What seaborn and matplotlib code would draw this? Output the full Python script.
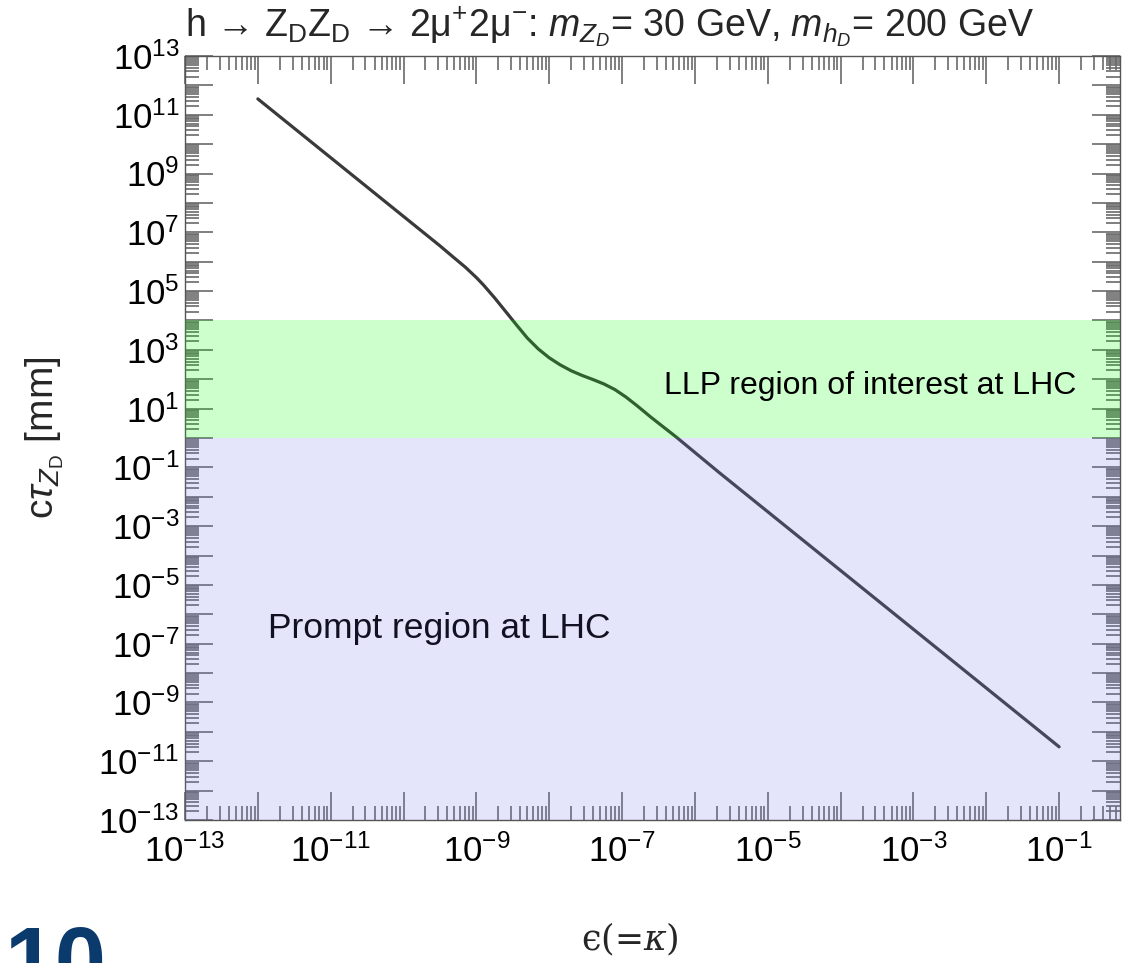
import numpy as np
import pandas as pd
import matplotlib
matplotlib.use("Agg")
import matplotlib.pyplot as plt
import seaborn as sns
from matplotlib.ticker import FixedLocator, FuncFormatter

# Lifetime of the dark Z boson versus kinetic mixing
log_eps = [-12.00, -11.50, -11.00, -10.50, -10.00, -9.50, -9.30, -9.15,
           -9.00, -8.90, -8.75, -8.60, -8.45, -8.30, -8.15, -8.00, -7.85,
           -7.70, -7.55, -7.40, -7.25, -7.10, -6.95, -6.80, -6.60, -6.26,
           -5.67, -4.00, -2.00, -1.00]
log_ctau = [11.54, 10.54, 9.54, 8.54, 7.54, 6.54, 6.12, 5.81,
            5.46, 5.20, 4.77, 4.31, 3.85, 3.40, 3.03, 2.73, 2.49,
            2.29, 2.13, 1.99, 1.84, 1.65, 1.40, 1.11, 0.70, 0.04,
            -1.17, -4.51, -8.51, -10.51]

# Lifetime regions [mm]
prompt_range = (1e-13, 1.0)
llp_range = (1.0, 1e4)

x_decades = list(range(-13, 1))
y_decades = list(range(-13, 14))

df = pd.DataFrame({"eps": np.power(10.0, log_eps),
                   "ctau": np.power(10.0, log_ctau)})

sns.set_theme(style="ticks")
plt.rcParams["font.family"] = ["Liberation Sans", "DejaVu Sans"]
plt.rcParams["mathtext.fontset"] = "custom"
plt.rcParams["mathtext.rm"] = "Liberation Sans"
plt.rcParams["mathtext.it"] = "Liberation Sans:italic"
plt.rcParams["mathtext.bf"] = "Liberation Sans:bold"

fig = plt.figure(figsize=(11.22, 9.63), dpi=100)
ax = fig.add_axes([185 / 1122, 1 - 820 / 963, 935 / 1122, 764 / 963])

sns.lineplot(data=df, x="eps", y="ctau", ax=ax, color="#3a3a3a",
             linewidth=2.3, zorder=2, sort=False)

ax.set_xscale("log")
ax.set_yscale("log")
ax.set_xlim(1e-13, 10 ** (-1 + 61 / 73))
ax.set_ylim(1e-13, 1e13)

ax.axhspan(*prompt_range, color="#7878E6", alpha=0.2, lw=0, zorder=3)
ax.axhspan(*llp_range, color="#00FF00", alpha=0.2, lw=0, zorder=3)

ax.text(10 ** -6.42, 10 ** 1.77, "LLP region of interest at LHC",
        fontsize=23, ha="left", va="center", color="black", zorder=5)
ax.text(10 ** -11.86, 10 ** -6.48, "Prompt region at LHC",
        fontsize=25.5, ha="left", va="center", color="#111122", zorder=5)


def odd_label(v, pos):
    e = int(round(np.log10(v)))
    return r"$10^{%d}$" % e if e % 2 != 0 else ""


xmin = [m * 10.0 ** d for d in range(-13, 0) for m in range(2, 10)]
ymin = [m * 10.0 ** d for d in range(-13, 13) for m in range(2, 10)]
ax.xaxis.set_major_locator(FixedLocator([10.0 ** d for d in x_decades]))
ax.yaxis.set_major_locator(FixedLocator([10.0 ** d for d in y_decades]))
ax.xaxis.set_minor_locator(FixedLocator(xmin))
ax.yaxis.set_minor_locator(FixedLocator(ymin))
ax.xaxis.set_major_formatter(FuncFormatter(odd_label))
ax.yaxis.set_major_formatter(FuncFormatter(odd_label))
ax.xaxis.set_minor_formatter(FuncFormatter(lambda v, p: ""))
ax.yaxis.set_minor_formatter(FuncFormatter(lambda v, p: ""))

ax.tick_params(which="both", direction="in", top=True, right=True,
               color="#6a6a6a", width=1.2, labelsize=25, labelcolor="black")
ax.tick_params(which="major", length=20)
ax.tick_params(which="minor", length=10)
ax.tick_params(axis="x", which="major", pad=10)
ax.tick_params(axis="y", which="major", pad=4)

for s in ax.spines.values():
    s.set_color("#555555")
    s.set_linewidth(1.0)

ax.set_xlabel(r"ϵ(=$\kappa$)", fontsize=25, family="DejaVu Serif",
              math_fontfamily="dejavuserif")
ax.xaxis.set_label_coords(0.476, -0.132)
ax.set_ylabel(r"c$\tau_{Z_{\mathrm{D}}}$ [mm]", fontsize=28)
ax.yaxis.set_label_coords(-0.127, 0.5)

ax.set_title(r"h → Z$_{\mathrm{D}}$Z$_{\mathrm{D}}$ → 2μ$^{+}$2μ$^{-}$: "
             r"$m_{Z_D}$= 30 GeV, $m_{h_D}$= 200 GeV",
             loc="left", fontsize=27, pad=14)

fig.text(0.004, 38 / 963, "10", fontsize=66, fontweight="bold",
         color="#0b3a6c", ha="left", va="top")

fig.savefig("out.png", dpi=100)
